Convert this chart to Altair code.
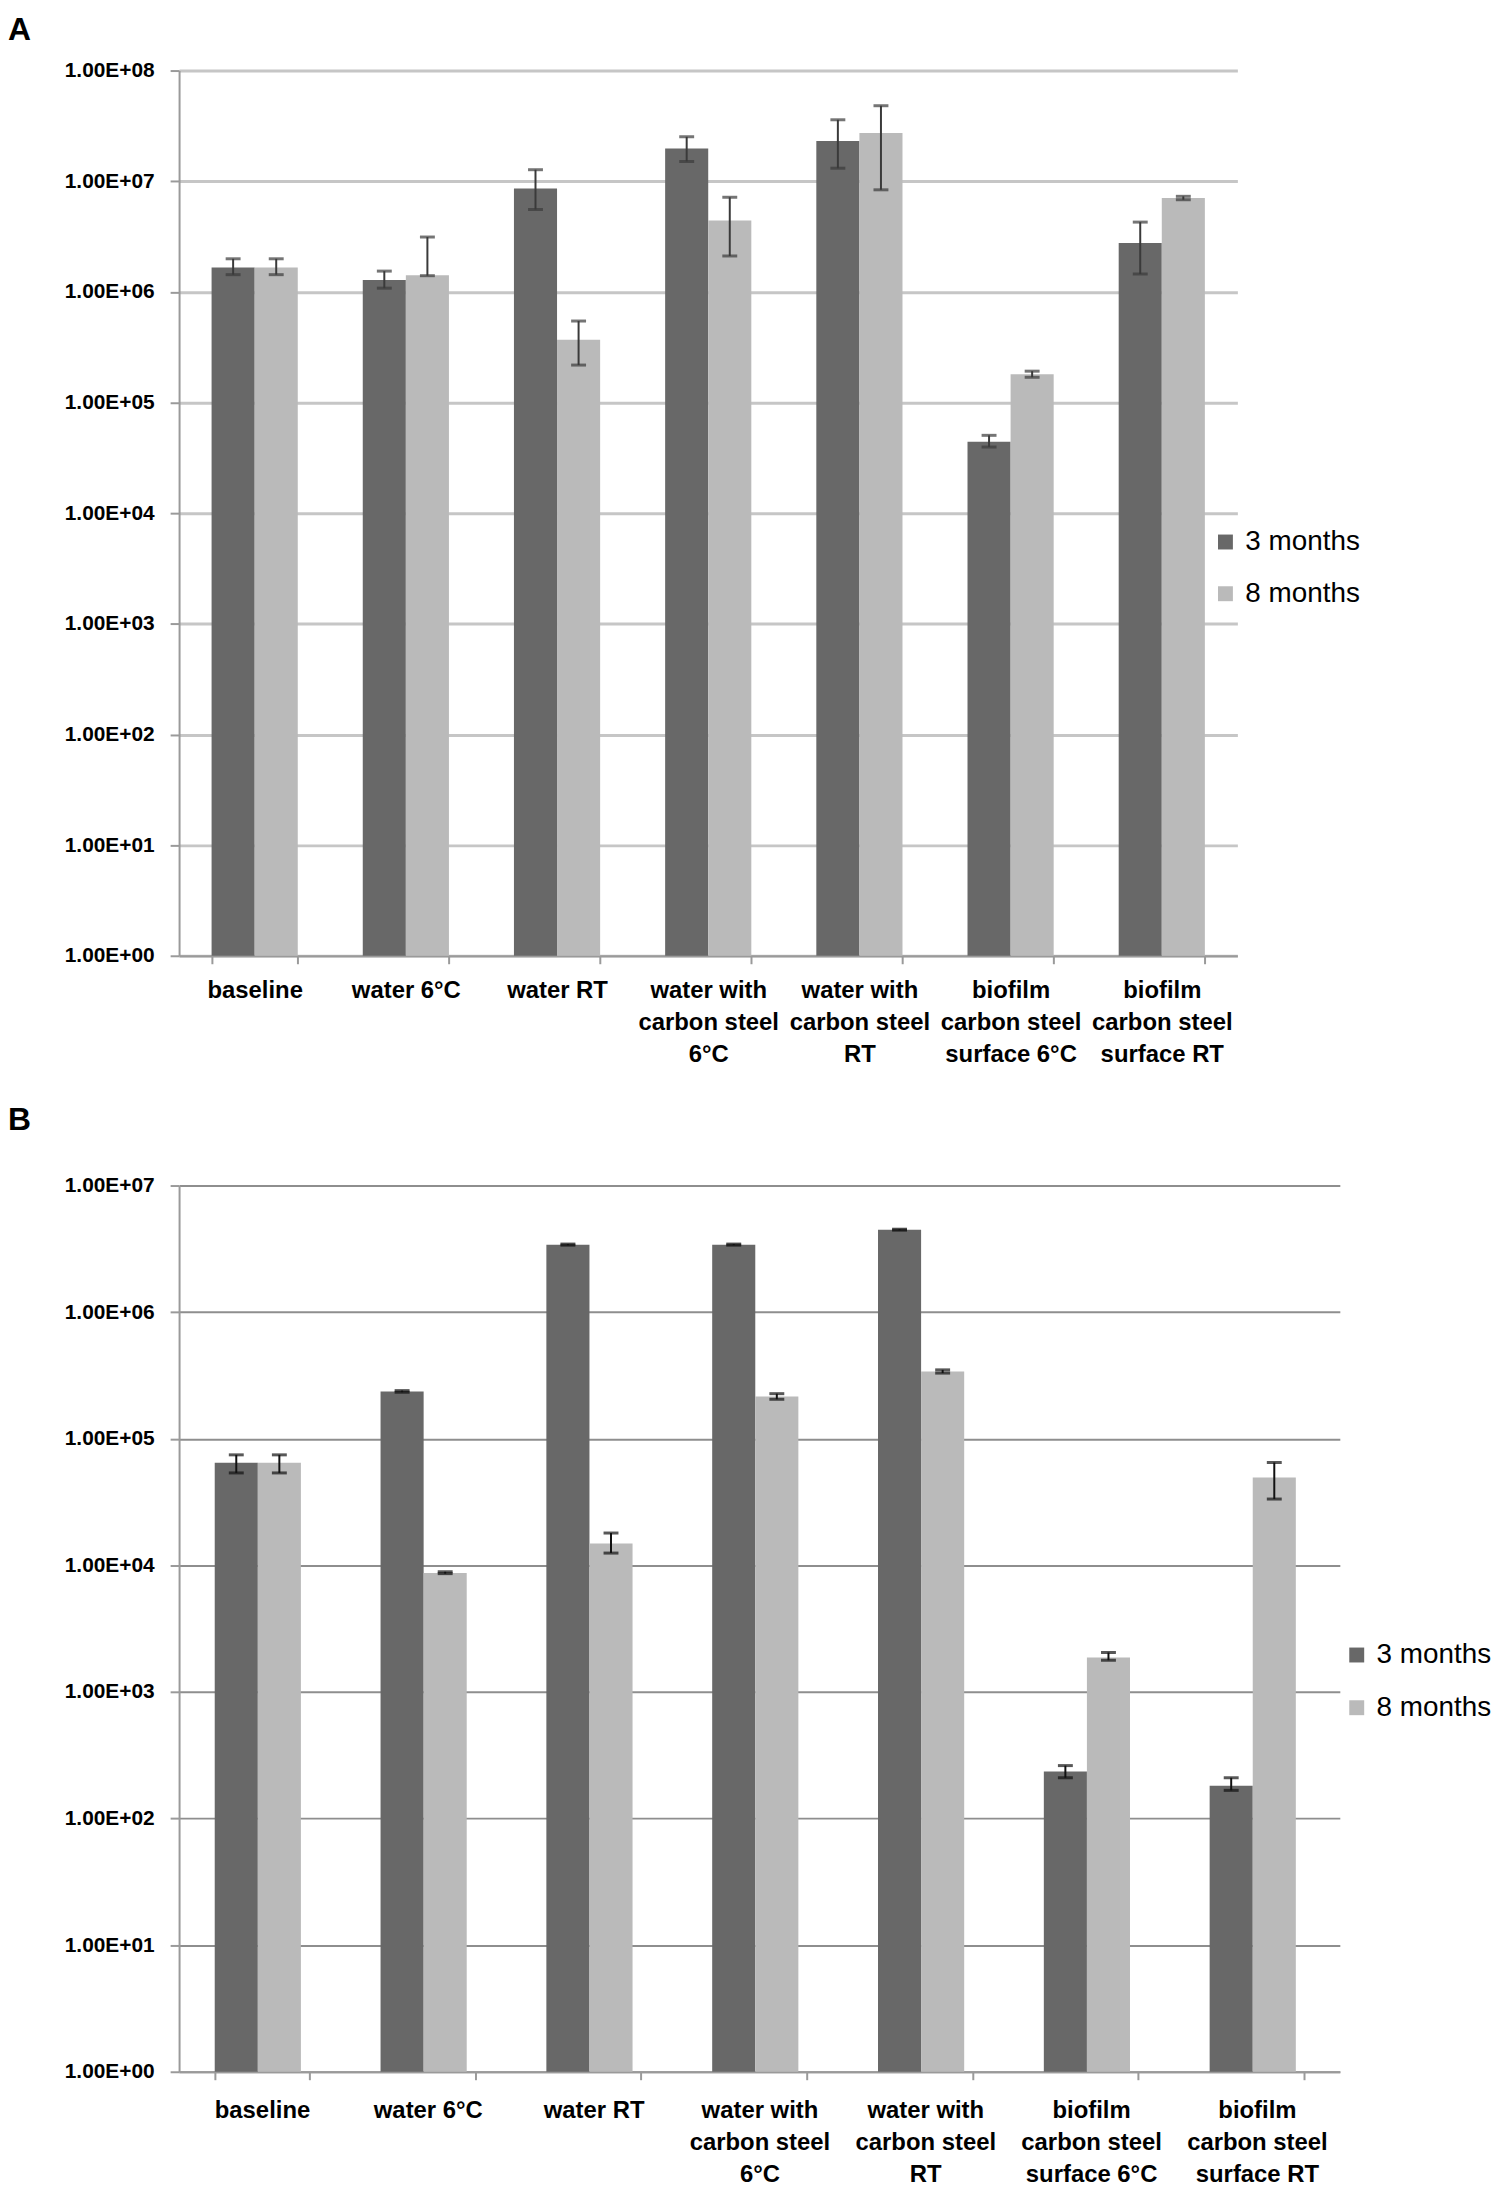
import altair as alt
import pandas as pd

categories = [
    "baseline",
    "water 6°C",
    "water RT",
    "water with|carbon steel|6°C",
    "water with|carbon steel|RT",
    "biofilm|carbon steel|surface 6°C",
    "biofilm|carbon steel|surface RT",
]
series = ["3 months", "8 months"]

# Panel A values
a_3m = [1.66e6, 1.28e6, 8.6e6, 1.97e7, 2.31e7, 4.42e4, 2.77e6]
a_3m_low = [1.43e6, 1.08e6, 5.55e6, 1.51e7, 1.31e7, 3.96e4, 1.45e6]
a_3m_high = [1.99e6, 1.54e6, 1.27e7, 2.52e7, 3.59e7, 5.05e4, 4.27e6]
a_8m = [1.66e6, 1.41e6, 3.7e5, 4.42e6, 2.72e7, 1.80e5, 7.06e6]
a_8m_low = [1.43e6, 1.40e6, 2.18e5, 2.11e6, 8.36e6, 1.69e5, 6.8e6]
a_8m_high = [1.99e6, 3.13e6, 5.45e5, 7.16e6, 4.81e7, 1.92e5, 7.3e6]

# Panel B values
b_3m = [6.45e4, 2.36e5, 3.41e6, 3.41e6, 4.48e6, 235, 182]
b_3m_low = [5.37e4, 2.33e5, 3.38e6, 3.38e6, 4.44e6, 210, 167]
b_3m_high = [7.46e4, 2.40e5, 3.45e6, 3.45e6, 4.52e6, 262, 210]
b_8m = [6.45e4, 8.7e3, 1.49e4, 2.16e5, 3.40e5, 1870, 4.94e4]
b_8m_low = [5.37e4, 8.6e3, 1.25e4, 2.05e5, 3.3e5, 1780, 3.34e4]
b_8m_high = [7.46e4, 8.9e3, 1.80e4, 2.27e5, 3.5e5, 2050, 6.49e4]


def make_df(v3, l3, h3, v8, l8, h8):
    rows = []
    for i, c in enumerate(categories):
        rows.append(dict(category=c, series=series[0], value=v3[i], low=l3[i], high=h3[i]))
        rows.append(dict(category=c, series=series[1], value=v8[i], low=l8[i], high=h8[i]))
    return pd.DataFrame(rows)


FONT = "Liberation Sans"
Y_LABEL_EXPR = ("'1.00E+' + (round(log(datum.value)/LN10) < 10 ? '0' : '') + "
                "round(log(datum.value)/LN10)")


def panel(df, label, width, height, ymax_exp, grid_color, grid_width, err_color,
          legend_x, legend_y, row_pad, title_offset, label_pad):
    yscale = alt.Scale(type="log", domain=[1, 10 ** ymax_exp], nice=False)
    xscale = alt.Scale(paddingInner=0.43, paddingOuter=0.215)
    x_axis = alt.Axis(
        labelAngle=0, labelExpr="split(datum.label, '|')", labelFont=FONT,
        labelFontSize=24, labelFontWeight="bold", labelColor="#000",
        labelLineHeight=32, labelPadding=label_pad, labelOverlap=False, labelLimit=0,
        tickBand="extent", tickSize=8, tickColor="#9a9a9a", tickWidth=2,
        domainColor="#9a9a9a", domainWidth=2, grid=False,
    )
    y_axis = alt.Axis(
        values=[10 ** k for k in range(ymax_exp + 1)], labelExpr=Y_LABEL_EXPR,
        labelFont=FONT, labelFontSize=21, labelFontWeight="bold", labelColor="#000",
        labelPadding=16, tickSize=9, tickColor="#9a9a9a", tickWidth=2,
        domainColor="#9a9a9a", domainWidth=2, gridColor=grid_color,
        gridWidth=grid_width, minExtent=169, maxExtent=169,
    )
    x = alt.X("category:N", sort=categories, title=None, scale=xscale, axis=x_axis)
    xo = alt.XOffset("series:N", sort=series)
    color = alt.Color(
        "series:N", sort=series,
        scale=alt.Scale(domain=series, range=["#686868", "#bababa"]),
        legend=alt.Legend(
            orient="none", legendX=legend_x, legendY=legend_y, title=None,
            symbolType="square", symbolSize=225, symbolStrokeWidth=0,
            labelFont=FONT, labelFontSize=28, labelColor="#000",
            rowPadding=row_pad, labelOffset=6, padding=0,
        ),
    )
    base = alt.Chart(df)
    bars = base.mark_bar().encode(
        x=x, xOffset=xo,
        y=alt.Y("value:Q", title=None, scale=yscale, axis=y_axis),
        y2=alt.datum(1),
        color=color,
    )
    rules = base.mark_rule(color=err_color, strokeWidth=2).encode(
        x=x, xOffset=xo,
        y=alt.Y("low:Q", scale=yscale),
        y2="high:Q",
    )
    cap_lo = base.mark_tick(color=err_color, thickness=3, size=15).encode(
        x=x, xOffset=xo, y=alt.Y("low:Q", scale=yscale))
    cap_hi = base.mark_tick(color=err_color, thickness=3, size=15).encode(
        x=x, xOffset=xo, y=alt.Y("high:Q", scale=yscale))
    return alt.layer(bars, rules, cap_lo, cap_hi).properties(
        width=width, height=height,
        title=alt.TitleParams(
            label, anchor="start", frame="group", dx=-172, dy=4, fontSize=32,
            font=FONT, fontWeight="bold", color="#000", offset=title_offset,
        ),
    )


df_a = make_df(a_3m, a_3m_low, a_3m_high, a_8m, a_8m_low, a_8m_high)
df_b = make_df(b_3m, b_3m_low, b_3m_high, b_8m, b_8m_low, b_8m_high)

chart_a = panel(df_a, "A", 1064, 890, 8, "#c6c6c6", 3, "#3a3a3a", 1038, 460, 24, 17, 15)
chart_b = panel(df_b, "B", 1167, 891, 7, "#8e8e8e", 2, "#111111", 1170, 458, 25, 42, 19)

chart = (
    alt.vconcat(chart_a, chart_b, spacing=38)
    .resolve_scale(color="independent")
    .resolve_legend(color="independent")
    .properties(padding={"left": 0, "top": 0, "right": 0, "bottom": 0}, background="white")
    .configure_view(stroke=None)
)

chart.save("out.html", embed_options={"renderer": "svg", "actions": False})
